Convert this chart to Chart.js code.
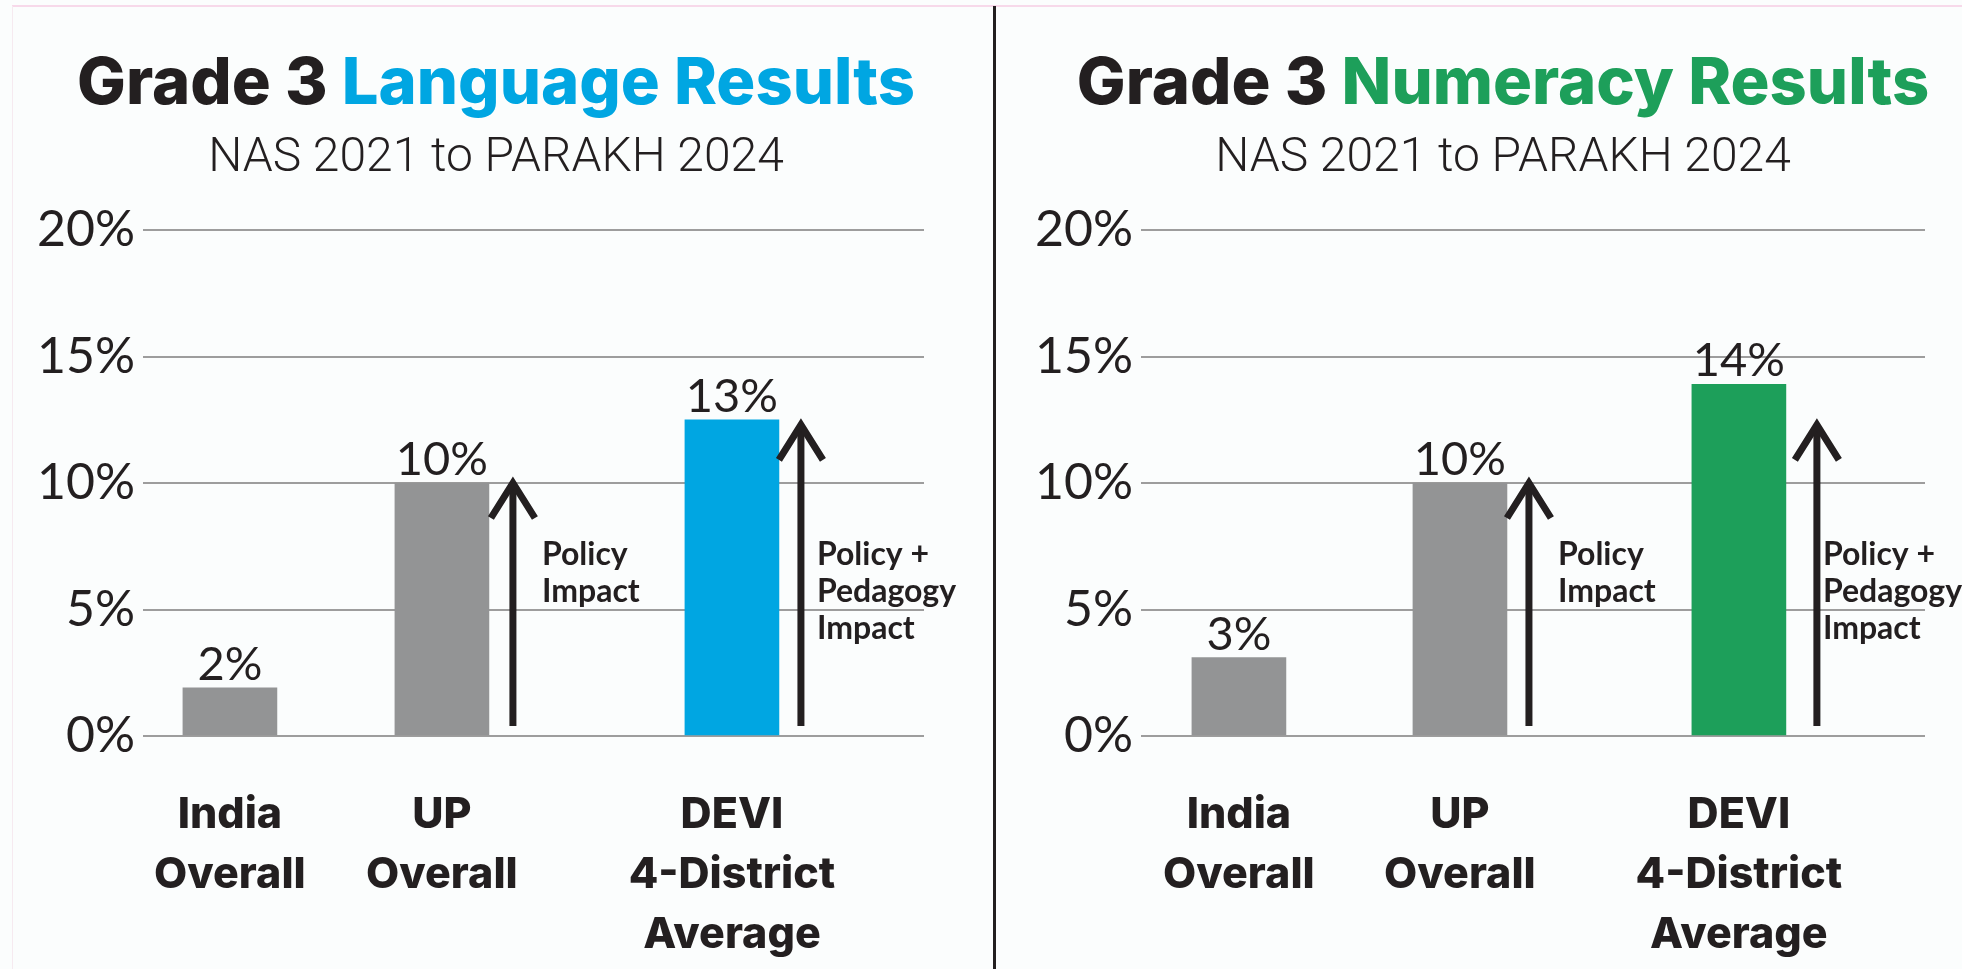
<!DOCTYPE html>
<html>
<head>
<meta charset="utf-8">
<script src="https://cdn.jsdelivr.net/npm/chart.js@4.4.1/dist/chart.umd.min.js"></script>
<style>
  html, body { margin: 0; padding: 0; }
  body { width: 1962px; height: 969px; background: #fbfdfd; position: relative; overflow: hidden; }
  .topline { position: absolute; left: 12px; right: 0; top: 5px; height: 2px; background: #f7d9ea; }
  .leftline { position: absolute; left: 12px; top: 6px; bottom: 0; width: 1px; background: #f6eaf0; }
  .divider { position: absolute; left: 993px; top: 6px; bottom: 0; width: 3px; background: #231f20; }
  canvas { position: absolute; top: 0; }
  #lang { left: 0; }
  #num { left: 997px; }
</style>
</head>
<body>
<div class="topline"></div>
<div class="leftline"></div>
<div class="divider"></div>
<canvas id="lang" width="994" height="969"></canvas>
<canvas id="num" width="965" height="969"></canvas>
<script>
// Data
const categories = [['India', 'Overall'], ['UP', 'Overall'], ['DEVI', '4-District', 'Average']];
const languageValues = [1.9, 10, 12.5];
const numeracyValues = [3.1, 10, 13.9];
const yTicks = [0, 5, 10, 15, 20];
const arrowLabels = [['Policy', 'Impact'], ['Policy +', 'Pedagogy', 'Impact']];
const arrowTops = [10, 12.3];
const arrowBase = 0.4;

const INK = '#231f20';
const GRAY = '#939495';

// titles drawn in two colours
const titlePlugin = {
  id: 'panelTitle',
  afterDraw(chart, args, opts) {
    const ctx = chart.ctx;
    ctx.save();
    ctx.textBaseline = 'alphabetic';
    ctx.font = '800 65px Inter';
    const first = 'Grade 3 ';
    const w1 = ctx.measureText(first).width;
    const w2 = ctx.measureText(opts.word).width;
    let x = opts.cx - (w1 + w2) / 2;
    ctx.textAlign = 'left';
    ctx.fillStyle = INK;
    ctx.fillText(first, x, 104);
    ctx.fillStyle = opts.color;
    ctx.fillText(opts.word, x + w1, 104);

    ctx.font = '300 48px Roboto';
    ctx.textAlign = 'center';
    ctx.fillStyle = INK;
    ctx.fillText('NAS 2021 to PARAKH 2024', opts.cx, 171);
    ctx.restore();
  }
};

// value labels above bars
const valueLabels = {
  id: 'valueLabels',
  afterDatasetsDraw(chart) {
    const ctx = chart.ctx;
    const meta = chart.getDatasetMeta(0);
    ctx.save();
    ctx.font = '47px Lato';
    ctx.fillStyle = INK;
    ctx.textAlign = 'center';
    ctx.textBaseline = 'alphabetic';
    meta.data.forEach((bar, i) => {
      const v = chart.data.datasets[0].data[i].y;
      ctx.fillText(Math.round(v) + '%', bar.x, bar.y - 8);
    });
    ctx.restore();
  }
};

// impact arrows next to UP and DEVI bars
const impactArrows = {
  id: 'impactArrows',
  afterDatasetsDraw(chart, args, opts) {
    const ctx = chart.ctx;
    const y = chart.scales.y;
    const meta = chart.getDatasetMeta(0);
    ctx.save();
    ctx.strokeStyle = INK;
    ctx.fillStyle = INK;
    ctx.lineWidth = 7;
    arrowTops.forEach((top, k) => {
      const bar = meta.data[k + 1];
      const ax = bar.x + opts.offsets[k];
      const y0 = y.getPixelForValue(arrowBase);
      const y1 = y.getPixelForValue(top);
      ctx.beginPath();
      ctx.moveTo(ax, y0);
      ctx.lineTo(ax, y1 + 2);
      ctx.stroke();
      ctx.beginPath();
      ctx.moveTo(ax - 22, y1 + 35);
      ctx.lineTo(ax, y1);
      ctx.lineTo(ax + 22, y1 + 35);
      ctx.stroke();

      ctx.font = 'bold 32px Lato';
      ctx.textAlign = 'left';
      ctx.textBaseline = 'alphabetic';
      const ty = y.getPixelForValue(6.76);
      arrowLabels[k].forEach((line, j) => {
        ctx.fillText(line, ax + opts.textGap[k], ty + j * 37);
      });
    });
    ctx.restore();
  }
};

function makeChart(id, values, accent, word, layout) {
  const ctx = document.getElementById(id).getContext('2d');
  return new Chart(ctx, {
    type: 'bar',
    data: {
      datasets: [{
        data: values.map((v, i) => ({ x: layout.slots[i], y: v })),
        backgroundColor: [GRAY, GRAY, accent],
        borderWidth: 0,
        barThickness: 94
      }]
    },
    options: {
      responsive: false,
      animation: false,
      layout: { padding: { top: 230, right: layout.padRight, left: 0, bottom: 0 } },
      plugins: {
        legend: { display: false },
        tooltip: { enabled: false },
        panelTitle: { word, color: accent, cx: layout.titleX },
        impactArrows: { offsets: layout.arrowOffsets, textGap: layout.textGap }
      },
      scales: {
        x: {
          type: 'linear',
          offset: false,
          min: layout.xMin,
          max: layout.xMax,
          grid: { display: false },
          border: { display: false },
          afterBuildTicks: axis => { axis.ticks = layout.slots.map(v => ({ value: v })); },
          afterFit: axis => { axis.height = 233; },
          ticks: {
            autoSkip: false,
            maxRotation: 0,
            padding: 41,
            color: INK,
            font: { family: 'Inter', weight: '800', size: 43, lineHeight: 1.4 },
            callback: (v, i) => categories[i]
          }
        },
        y: {
          min: 0,
          max: 20,
          afterBuildTicks: axis => { axis.ticks = yTicks.map(v => ({ value: v })); },
          afterFit: axis => { axis.width = layout.axisWidth; },
          grid: { color: '#9d9d9d', lineWidth: 2, drawTicks: false },
          border: { display: false },
          ticks: {
            padding: 8,
            color: INK,
            font: { family: 'Lato', size: 50 },
            callback: v => v + '%'
          }
        }
      }
    },
    plugins: [titlePlugin, valueLabels, impactArrows]
  });
}

makeChart('lang', languageValues, '#00a6e2', 'Language Results', {
  slots: [0, 1, 2.368], xMin: -0.410, xMax: 3.274,
  padRight: 70, axisWidth: 143, titleX: 496,
  arrowOffsets: [71, 69], textGap: [29, 16]
});

makeChart('num', numeracyValues, '#1d9f5a', 'Numeracy Results', {
  slots: [0, 1, 2.262], xMin: -0.443, xMax: 3.104,
  padRight: 37, axisWidth: 144, titleX: 506,
  arrowOffsets: [69, 78], textGap: [29, 6]
});
</script>
</body>
</html>
